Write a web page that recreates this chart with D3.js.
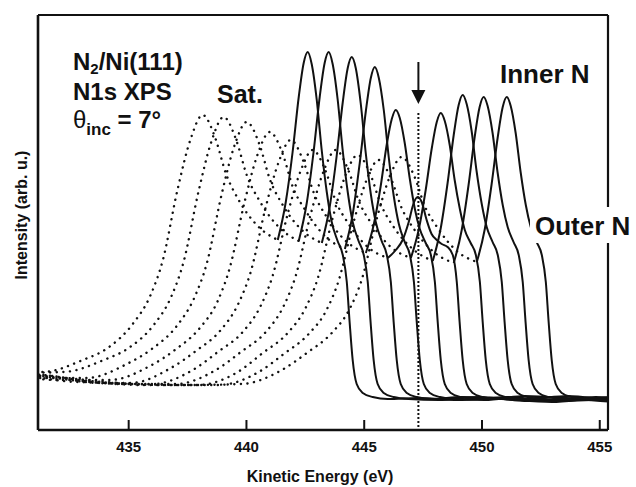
<!DOCTYPE html>
<html><head><meta charset="utf-8">
<script src="https://cdn.jsdelivr.net/npm/d3@7/dist/d3.min.js"></script>
<style>body{margin:0;background:#fff}svg{display:block}</style>
</head><body><svg id="c" width="636" height="487"></svg>
<script>
// Energy grid relative to the main (Inner N) peak of each spectrum, eV
const relE = [-19.95,-17.83,-15.71,-13.59,-11.25,-9.55,-8.49,-7.43,-6.67,-6.16,-5.52,-4.97,-4.46,-3.91,-3.48,-2.93,-2.12,-1.27,
  -0.93,-0.64,-0.38,-0.17,0,0.17,0.38,0.59,0.81,1.02,1.27,1.49,1.66,1.78,1.91,2.08,2.34,2.76,3.40,4.67,6.37,8.49,10.61,12.74];
const satEndIndex = 17; // points 0..17 drawn dotted (satellite region), 17.. solid
// Kinetic energy of the main peak of each spectrum (eV)
const peakKE = [442.60, 443.49, 444.47, 445.45, 446.34, 447.27, 448.25, 449.18, 450.07, 451.05];
// Intensities (arb. u.)
const spec1 = [58,58,58,58, 58,70,82,106,135,169,241,291,315,291,257,230,204,190, 228,278,333,367,378,366,331,281,238,208,189,175,148,108,70,46,37,33,31,32,30,33,29,31];
const spec2 = [57,57,57,57, 58,70,82,105,134,168,239,289,313,289,255,229,203,189, 227,278,333,367,378,366,331,281,238,208,189,175,148,108,70,46,37,33,31,30,33,29,32,30];
const spec3 = [56,56,55,52, 52,66,81,104,133,166,236,285,308,285,251,225,200,187, 224,274,328,362,373,362,327,278,236,208,189,175,148,108,70,46,37,33,31,33,31,28,32,30];
const spec4 = [56,56,55,50, 50,64,80,102,129,162,229,276,298,276,243,219,194,181, 217,267,319,352,363,352,320,273,233,206,188,175,148,108,70,46,37,33,31,30,34,31,28,32];
const spec5 = [56,56,54,48, 47,62,79,100,127,158,223,268,290,268,237,213,189,177, 206,244,286,311,320,312,287,252,221,201,187,175,148,108,70,46,37,33,31,32,29,33,30,31];
const spec6 = [57,57,53,47, 46,60,78,98,124,154,216,259,280,259,229,206,183,172, 180,190,208,227,233,228,210,196,190,186,183,175,148,108,70,46,37,33,31,31,34,30,32,29];
const spec7 = [57,56,50,46, 46,60,78,98,124,154,216,259,280,259,229,206,183,172, 201,240,282,308,317,309,285,250,221,200,187,175,148,108,70,46,37,33,31,33,30,32,29,31];
const spec8 = [57,55,48,45, 45,58,77,97,122,151,212,255,275,255,226,203,181,169, 202,247,295,325,335,326,299,259,226,203,188,175,148,108,70,46,37,33,31,30,33,29,31,30];
const spec9 = [57,52,47,45, 45,58,76,96,120,149,208,250,270,250,222,200,178,167, 200,245,293,323,333,324,297,258,225,203,188,175,148,108,70,46,37,33,31,32,29,31,30,33];
const spec10 = [56,50,46,45, 46,60,77,97,121,150,211,253,273,253,224,202,179,168, 201,246,293,323,333,324,297,258,225,203,188,175,148,108,70,46,37,33,31,30,32,29,31,30];
const spectra = [spec1,spec2,spec3,spec4,spec5,spec6,spec7,spec8,spec9,spec10];
const xTicks = [435, 440, 445, 450, 455];
const arrowKE = 447.3;

const svg = d3.select('#c');
const L = 38, R = 608, T = 15, B = 430;
const x = d3.scaleLinear().domain([431.15, 455.35]).range([L, R]);
const y = d3.scaleLinear().domain([0, 415]).range([B, T]);
const font = "'Liberation Sans', Arial, Helvetica, sans-serif";

svg.append('defs').append('clipPath').attr('id','clip')
  .append('rect').attr('x',L).attr('y',T).attr('width',R-L).attr('height',B-T);
const g = svg.append('g').attr('clip-path','url(#clip)');

const line = d3.line().x(d=>x(d[0])).y(d=>y(d[1])).curve(d3.curveMonotoneX);

spectra.forEach((s,i)=>{
  const pts = s.map((v,j)=>[peakKE[i]+relE[j], v]);
  g.append('path').attr('d', line(pts.slice(0, satEndIndex+1)))
    .attr('fill','none').attr('stroke','#111').attr('stroke-width',2.4)
    .attr('stroke-linecap','round').attr('stroke-dasharray','0.1 6.5');
});
spectra.forEach((s,i)=>{
  const pts = s.map((v,j)=>[peakKE[i]+relE[j], v]);
  g.append('path').attr('d', line(pts.slice(satEndIndex)))
    .attr('fill','none').attr('stroke','#111').attr('stroke-width',2)
    .attr('stroke-linejoin','round');
});

// vertical dotted marker + arrow
g.append('line').attr('x1',x(arrowKE)).attr('x2',x(arrowKE)).attr('y1',113).attr('y2',B)
  .attr('stroke','#111').attr('stroke-width',2).attr('stroke-dasharray','2 2');
svg.append('line').attr('x1',x(arrowKE)).attr('x2',x(arrowKE)).attr('y1',62).attr('y2',92)
  .attr('stroke','#111').attr('stroke-width',2);
const ax = x(arrowKE);
svg.append('path').attr('d',`M${ax-7},90 L${ax+7},90 L${ax},104 Z`).attr('fill','#111');

// frame
svg.append('line').attr('x1',L).attr('x2',R).attr('y1',T).attr('y2',T).attr('stroke','#111').attr('stroke-width',2);
svg.append('line').attr('x1',L).attr('x2',L).attr('y1',T).attr('y2',B).attr('stroke','#111').attr('stroke-width',2.6);
svg.append('line').attr('x1',R).attr('x2',R).attr('y1',T).attr('y2',B).attr('stroke','#111').attr('stroke-width',2.2);
svg.append('line').attr('x1',L).attr('x2',R).attr('y1',B).attr('y2',B).attr('stroke','#111').attr('stroke-width',2.6);

// ticks and labels
const xAxis = svg.append('g');
xTicks.forEach(t=>{
  xAxis.append('line').attr('x1',x(t)).attr('x2',x(t)).attr('y1',B).attr('y2',B-10)
    .attr('stroke','#111').attr('stroke-width',2);
  xAxis.append('text').attr('x',x(t)).attr('y',452).attr('text-anchor','middle')
    .attr('font-family',font).attr('font-size',15).attr('font-weight','bold').attr('fill','#111').text(t);
});
svg.append('text').attr('x',320).attr('y',482).attr('text-anchor','middle')
  .attr('font-family',font).attr('font-size',16).attr('font-weight','bold').attr('fill','#111')
  .text('Kinetic Energy (eV)');
svg.append('text').attr('transform','translate(27,215) rotate(-90)').attr('text-anchor','middle')
  .attr('font-family',font).attr('font-size',16).attr('font-weight','bold').attr('fill','#111')
  .text('Intensity (arb. u.)');

// annotations
const t1 = svg.append('text').attr('x',73).attr('y',70).attr('font-family',font).attr('font-size',24).attr('font-weight','bold').attr('fill','#111');
t1.append('tspan').text('N');
t1.append('tspan').attr('font-size',15).attr('dy',4).text('2');
t1.append('tspan').attr('dy',-4).text('/Ni(111)');
svg.append('text').attr('x',73).attr('y',100).attr('font-family',font).attr('font-size',24).attr('font-weight','bold').attr('fill','#111').text('N1s XPS');
const t3 = svg.append('text').attr('x',73).attr('y',128).attr('font-family',font).attr('font-size',24).attr('fill','#111');
t3.append('tspan').text('θ');
t3.append('tspan').attr('font-size',17).attr('font-weight','bold').attr('dy',7).text('inc');
t3.append('tspan').attr('dy',-7).attr('font-weight','bold').text(' = 7°');
svg.append('text').attr('x',217).attr('y',103).attr('font-family',font).attr('font-size',25).attr('font-weight','bold').attr('fill','#111').text('Sat.');
svg.append('text').attr('x',500).attr('y',83).attr('font-family',font).attr('font-size',26).attr('font-weight','bold').attr('fill','#111').text('Inner N');
svg.append('rect').attr('x',530).attr('y',207).attr('width',106).attr('height',36).attr('fill','#fff');
svg.append('text').attr('x',535).attr('y',235).attr('font-family',font).attr('font-size',26).attr('font-weight','bold').attr('fill','#111').text('Outer N');
</script></body></html>
